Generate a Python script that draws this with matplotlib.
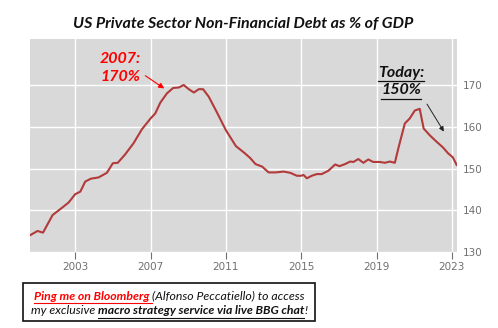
import matplotlib
matplotlib.use("Agg")
import matplotlib.pyplot as plt
from matplotlib.patches import Rectangle
from matplotlib.lines import Line2D

# ---- data ----
years = [2000.61, 2001.0, 2001.29, 2001.8, 2002.2, 2002.65, 2003.0, 2003.27, 2003.53,
         2003.83, 2004.24, 2004.68, 2005.0, 2005.26, 2005.65, 2006.1, 2006.54, 2007.0,
         2007.25, 2007.52, 2007.87, 2008.2, 2008.5, 2008.76, 2009.03, 2009.3, 2009.56,
         2009.79, 2010.09, 2010.53, 2011.0, 2011.53, 2012.0, 2012.3, 2012.57, 2012.92,
         2013.27, 2013.63, 2014.07, 2014.42, 2014.77, 2015.0, 2015.12, 2015.3, 2015.56,
         2015.83, 2016.09, 2016.44, 2016.8, 2017.03, 2017.33, 2017.6, 2017.77, 2018.03,
         2018.3, 2018.56, 2018.82, 2019.18, 2019.44, 2019.7, 2019.97, 2020.18, 2020.5,
         2020.76, 2021.03, 2021.29, 2021.5, 2021.82, 2022.17, 2022.52, 2022.79, 2023.05,
         2023.25]
debt_pct = [134.1, 135.1, 134.7, 138.9, 140.3, 141.9, 143.9, 144.5, 146.9,
            147.6, 147.9, 149.0, 151.3, 151.4, 153.4, 156.1, 159.4, 162.0,
            163.2, 165.8, 168.0, 169.3, 169.4, 170.0, 169.0, 168.2, 169.0,
            169.0, 167.2, 163.4, 159.2, 155.4, 153.7, 152.5, 151.1, 150.5,
            149.1, 149.1, 149.3, 149.0, 148.3, 148.3, 148.5, 147.7, 148.3,
            148.7, 148.7, 149.5, 151.0, 150.6, 151.1, 151.7, 151.6, 152.3,
            151.4, 152.2, 151.6, 151.6, 151.4, 151.7, 151.4, 155.3, 160.8,
            162.0, 163.9, 164.3, 159.6, 158.0, 156.5, 155.1, 153.7, 152.7,
            150.9]
x_ticks = [2003, 2007, 2011, 2015, 2019, 2023]
y_ticks = [130, 140, 150, 160, 170]

title = "US Private Sector Non-Financial Debt as % of GDP"

W, H = 498, 328
fig = plt.figure(figsize=(W / 100, H / 100), dpi=100)
fig.patch.set_facecolor("white")

def fx(px):
    return px / W

def fy(py):
    return 1 - py / H

ax = fig.add_axes([fx(30), fy(252.3), fx(457) - fx(30), fy(39) - fy(252.3)])
ax.set_facecolor("#d9d9d9")
ax.plot(years, debt_pct, color="#b23a3a", lw=1.5, zorder=3)
ax.set_xlim(2000.6, 2023.27)
ax.set_ylim(130, 181)
ax.set_xticks(x_ticks)
ax.set_yticks(y_ticks)
ax.grid(True, color="white", lw=1.0, zorder=1)
ax.set_axisbelow(True)
for s in ax.spines.values():
    s.set_visible(False)
ax.yaxis.tick_right()
ax.tick_params(axis="y", length=0, pad=4, labelsize=7.5, labelcolor="#707070")
ax.tick_params(axis="x", length=5, width=0.8, color="#707070", pad=2,
               labelsize=7.5, labelcolor="#707070")

# title
fig.text(fx(243), fy(24), title, ha="center", va="center", fontsize=11.5,
         fontweight="bold", fontstyle="italic", family="Lato", color="#111111")

# annotations
ann_font = dict(fontsize=11.5, fontweight="bold", fontstyle="italic", family="Lato")
fig.text(fx(100), fy(59), "2007:", ha="left", va="center", color="red", **ann_font)
fig.text(fx(100), fy(77), "170%", ha="left", va="center", color="red", **ann_font)
ax.annotate("", xy=(2007.85, 168.8), xytext=(2006.6, 172.6),
            arrowprops=dict(arrowstyle="-|>", color="red", lw=0.8, mutation_scale=8))

t1 = fig.text(fx(401), fy(72.5), "Today:", ha="center", va="center", color="#111111", **ann_font)
t2 = fig.text(fx(401), fy(90), "150%", ha="center", va="center", color="#111111", **ann_font)
ax.annotate("", xy=(2022.65, 158.3), xytext=(2021.6, 166.0),
            arrowprops=dict(arrowstyle="-|>", color="#222222", lw=0.7, mutation_scale=7))

fig.canvas.draw()
renderer = fig.canvas.get_renderer()

def underline(t, color, offset=1.5, lw=0.9):
    bb = t.get_window_extent(renderer)
    y = bb.y0 - offset
    fig.add_artist(Line2D([bb.x0 / W, bb.x1 / W], [y / H, y / H],
                          transform=fig.transFigure, color=color, lw=lw))

underline(t1, "#111111")
underline(t2, "#111111")

# bottom box
fig.add_artist(Rectangle((fx(23), fy(321)), fx(315) - fx(23), fy(283) - fy(321),
                         transform=fig.transFigure, fill=False, ec="#111111", lw=1.2))

def place_pieces(pieces, y_px, center_px, fontsize=8.8):
    texts = []
    for s, color, bold, ul in pieces:
        t = fig.text(0, fy(y_px), s, ha="left", va="center", fontsize=fontsize,
                     fontstyle="italic", fontweight="bold" if bold else "normal",
                     family="Lato", color=color)
        texts.append((t, color, ul))
    widths = [t.get_window_extent(renderer).width for t, _, _ in texts]
    total = sum(widths)
    x = center_px - total / 2
    for (t, color, ul), w in zip(texts, widths):
        t.set_x(x / W)
        x += w
    fig.canvas.draw()
    for t, color, ul in texts:
        if ul:
            underline(t, color, offset=1.0, lw=0.8)

place_pieces([("Ping me on Bloomberg ", "red", True, True),
              ("(Alfonso Peccatiello) to access", "#111111", False, False)], 296, 169)
place_pieces([("my exclusive ", "#111111", False, False),
              ("macro strategy service via live BBG chat", "#111111", True, True),
              ("!", "#111111", False, False)], 311, 169)

fig.savefig("out.png", dpi=100, facecolor="white")
